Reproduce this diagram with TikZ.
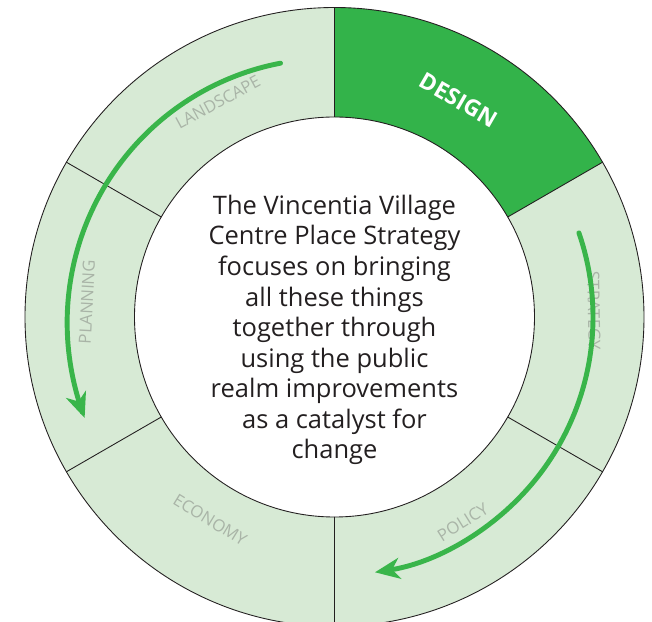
\documentclass[tikz,border=0pt]{standalone}
\usepackage{fontspec}
\setmainfont{Open Sans}
\usetikzlibrary{arrows.meta}
\definecolor{ringgreen}{HTML}{D7EAD5}
\definecolor{designgreen}{HTML}{33B34A}
\definecolor{arrowgreen}{HTML}{39B54A}
\definecolor{labelgrey}{HTML}{A9B4A7}
\definecolor{textdark}{HTML}{231F20}
\tikzset{
  ringlabel/.style={inner sep=0pt, text=labelgrey, font=\fontsize{9.5}{11}\selectfont},
  cyclearrow/.style={arrowgreen, line width=2.8pt, line cap=round,
    -{Stealth[length=0.5cm, width=0.42cm, inset=0.15cm]}}
}
\begin{document}
\begin{tikzpicture}
  \useasboundingbox (-6.69,-6.10) rectangle (6.35,6.34);
  \fill[ringgreen, even odd rule] (0,0) circle (6.19) (0,0) circle (4.0);
  \fill[designgreen] (30:6.19) arc (30:90:6.19) -- (90:4.0) arc (90:30:4.0) -- cycle;
  \draw[textdark, line width=0.5pt] (0,0) circle (6.19) (0,0) circle (4.0);
  \draw[textdark, line width=0.5pt] (90:4.0) -- (90:6.19) (150:4.0) -- (150:6.19)
    (210:4.0) -- (210:6.19) (270:4.0) -- (270:6.19) (330:4.0) -- (330:6.19)
    (30:4.0) -- (30:6.19);
  \node (design) at (60.2:5.0) [rotate=-30, inner sep=0pt, text=white,
    font=\bfseries\fontsize{13}{15}\selectfont] {DESIGN};
  \node (landscape) at (118.5:4.89) [ringlabel, rotate=28.5] {LANDSCAPE};
  \node (planning) at (176.5:4.96) [ringlabel, rotate=87] {PLANNING};
  \node (economy) at (238.5:4.76) [ringlabel, rotate=-31.5] {ECONOMY};
  \node (policy) at (-58:4.84) [ringlabel, rotate=32] {POLICY};
  \node (strategy) at (1.4:5.19) [ringlabel, rotate=-89] {STRATEGY};
  \node (centre) at (0,-0.26) [align=center, text=textdark,
    font=\fontsize{14.5}{17.4}\selectfont] {The Vincentia Village\\Centre Place Strategy\\focuses on bringing\\all these things\\together through\\using the public\\realm improvements\\as a catalyst for\\change};
  \draw[cyclearrow] plot[domain=102:202, samples=60, smooth]
    ({(5.19+0.002*(\x-102))*cos(\x)}, {(5.19+0.002*(\x-102))*sin(\x)});
  \draw[cyclearrow] (19:5.17) arc (19:-81:5.17);
\end{tikzpicture}
\end{document}
